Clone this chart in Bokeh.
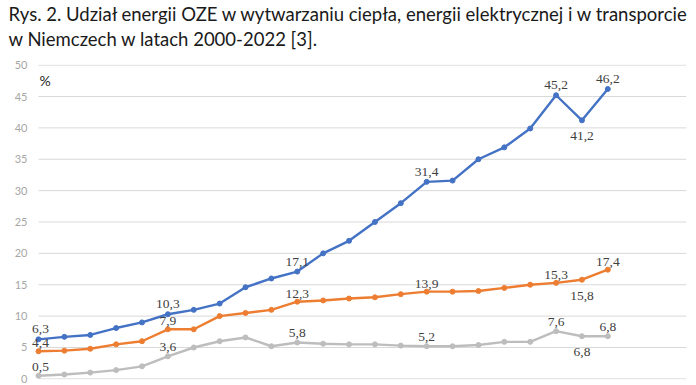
from bokeh.plotting import figure
from bokeh.models import Range1d, FixedTicker, Title, Label, LabelSet, ColumnDataSource
from bokeh.embed import file_html
from bokeh.resources import INLINE

years = list(range(2000, 2023))
electricity = [6.3, 6.7, 7.0, 8.1, 9.0, 10.3, 11.0, 12.0, 14.6, 16.0, 17.1, 20.0, 22.0,
               25.0, 28.0, 31.4, 31.6, 35.0, 36.9, 39.9, 45.2, 41.2, 46.2]
heat = [4.4, 4.5, 4.8, 5.5, 6.0, 7.9, 7.9, 10.0, 10.5, 11.0, 12.3, 12.5, 12.8,
        13.0, 13.5, 13.9, 13.9, 14.0, 14.5, 15.0, 15.3, 15.8, 17.4]
transport = [0.5, 0.7, 1.0, 1.4, 2.0, 3.6, 5.0, 6.0, 6.6, 5.2, 5.8, 5.6, 5.5,
             5.5, 5.3, 5.2, 5.2, 5.4, 5.9, 5.9, 7.6, 6.8, 6.8]
y_ticks = [0, 5, 10, 15, 20, 25, 30, 35, 40, 45, 50]
labelled_years = [2000, 2005, 2010, 2015, 2020, 2021, 2022]
below_years = [2021]

title_line1 = "Rys. 2. Udział energii OZE w wytwarzaniu ciepła, energii elektrycznej i w transporcie"
title_line2 = "w Niemczech w latach 2000-2022 [3]."

series = [
    (electricity, "#4472C4", 10),
    (heat, "#ED7D31", 8),
    (transport, "#BDBDBD", 9),
]

x_end = 2025.04
p = figure(width=696, height=385, output_backend="svg", toolbar_location=None,
           x_axis_location=None, x_range=Range1d(1999.614, x_end), y_range=Range1d(-0.1, 50.1),
           min_border_left=28, min_border_right=10, min_border_bottom=6, min_border_top=61)
p.title = None
p.outline_line_color = None
p.background_fill_color = "white"

p.yaxis.ticker = FixedTicker(ticks=y_ticks)
p.yaxis.axis_line_color = None
p.yaxis.major_tick_line_color = None
p.yaxis.minor_tick_line_color = None
p.yaxis.major_label_text_color = "#A6A6A6"
p.yaxis.major_label_text_font = "Lato"
p.yaxis.major_label_text_font_size = "11px"
p.yaxis.major_label_standoff = -5
p.ygrid.grid_line_color = None
p.xgrid.grid_line_color = None

# horizontal gridlines starting at first category
p.segment(x0=[years[0]] * len(y_ticks), x1=[x_end] * len(y_ticks), y0=y_ticks, y1=y_ticks,
          line_color="#D9D9D9", line_width=1)

for vals, col, up in series:
    p.line(years, vals, line_color=col, line_width=2.4)
    p.scatter(years, vals, size=5, fill_color=col, line_color=col)
    xs, ys, txt, yo, xo = [], [], [], [], []
    for yr, v in zip(years, vals):
        if yr in labelled_years:
            xs.append(yr)
            ys.append(v)
            txt.append(f"{v:.1f}".replace(".", ","))
            yo.append(-16 if yr in below_years else up)
            xo.append(2 if yr == years[0] else 0)
    src = ColumnDataSource(dict(x=xs, y=ys, t=txt, yo=yo, xo=xo))
    p.add_layout(LabelSet(x="x", y="y", text="t", source=src, x_offset="xo", y_offset="yo",
                          text_align="center", text_baseline="middle",
                          text_font="Lato", text_font_size="13.5px", text_color="#404040"))

p.add_layout(Label(x=2000.04, y=47.5, text="%", text_font="Lato", text_font_size="14px",
                   text_color="#262626", text_baseline="middle"))

t2 = Title(text=title_line2, align="left", text_font="Lato", text_font_size="18.5px",
           text_font_style="normal", text_color="#1a1a1a", offset=-20, standoff=2,
           padding=dict(left=0, right=0, top=0, bottom=14))
t1 = Title(text=title_line1, align="left", text_font="Lato", text_font_size="18.5px",
           text_font_style="normal", text_color="#1a1a1a", offset=-20, standoff=0)
p.add_layout(t2, "above")
p.add_layout(t1, "above")

open("out.html", "w").write(file_html(p, INLINE))
